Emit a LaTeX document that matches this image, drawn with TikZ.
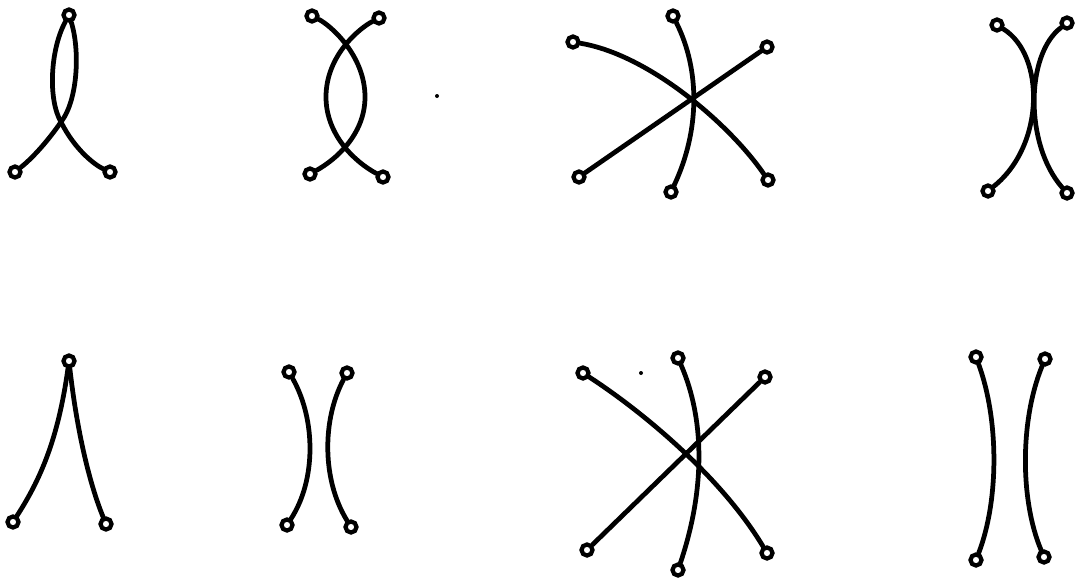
\documentclass[tikz,border=0pt]{standalone}
\begin{document}
\begin{tikzpicture}[x=0.02cm,y=-0.02cm,
  term/.style={circle,draw,fill=white,line width=0.085cm,minimum size=0.22cm,inner sep=0pt},
  strand/.style={line width=0.095cm,line cap=round},
  speck/.style={fill=black}]
\useasboundingbox (0,0) rectangle (1082,579);
% panel 1
\node[term] (a1) at (69,15) {};
\node[term] (a2) at (15,172) {};
\node[term] (a3) at (110,172) {};
\draw[strand] (a1) .. controls (50,50) and (48,100) .. (61,122) .. controls (75,150) and (95,165) .. (a3);
\draw[strand] (a1) .. controls (80,50) and (78,100) .. (61,122) .. controls (45,145) and (30,160) .. (a2);
% panel 2
\node[term] (b1) at (312,16) {};
\node[term] (b2) at (379,18) {};
\node[term] (b3) at (310,174) {};
\node[term] (b4) at (383,177) {};
\draw[strand] (b1) .. controls (330,25) and (365,55) .. (365,97) .. controls (365,135) and (335,160) .. (b3);
\draw[strand] (b2) .. controls (360,28) and (326,55) .. (326,97) .. controls (326,135) and (355,162) .. (b4);
\fill[speck] (437,96) circle (2);
% panel 3
\node[term] (c1) at (573,42) {};
\node[term] (c2) at (673,16) {};
\node[term] (c3) at (767,47) {};
\node[term] (c4) at (579,177) {};
\node[term] (c5) at (671,192) {};
\node[term] (c6) at (768,180) {};
\draw[strand] (c1) .. controls (650,55) and (730,125) .. (c6);
\draw[strand] (c3) -- (c4);
\draw[strand] (c2) .. controls (700,70) and (700,130) .. (c5);
% panel 4
\node[term] (d1) at (997,25) {};
\node[term] (d2) at (1067,23) {};
\node[term] (d3) at (988,191) {};
\node[term] (d4) at (1067,193) {};
\draw[strand] (d1) .. controls (1045,55) and (1045,145) .. (d3);
\draw[strand] (d2) .. controls (1025,55) and (1025,145) .. (d4);
% panel 5
\node[term] (e1) at (69,361) {};
\node[term] (e2) at (13,522) {};
\node[term] (e3) at (106,524) {};
\draw[strand] (e1) .. controls (58,440) and (40,480) .. (e2);
\draw[strand] (e1) .. controls (78,440) and (92,490) .. (e3);
% panel 6
\node[term] (f1) at (289,372) {};
\node[term] (f2) at (347,373) {};
\node[term] (f3) at (287,525) {};
\node[term] (f4) at (351,527) {};
\draw[strand] (f1) .. controls (316,420) and (316,480) .. (f3);
\draw[strand] (f2) .. controls (322,420) and (322,480) .. (f4);
% panel 7
\node[term] (g1) at (583,373) {};
\node[term] (g2) at (678,358) {};
\node[term] (g3) at (765,377) {};
\node[term] (g4) at (587,550) {};
\node[term] (g5) at (678,570) {};
\node[term] (g6) at (767,553) {};
\draw[strand] (g1) .. controls (640,410) and (720,475) .. (g6);
\draw[strand] (g3) -- (g4);
\draw[strand] (g2) .. controls (705,420) and (705,490) .. (g5);
\fill[speck] (641,373) circle (2);
% panel 8
\node[term] (h1) at (976,357) {};
\node[term] (h2) at (1045,359) {};
\node[term] (h3) at (976,560) {};
\node[term] (h4) at (1044,557) {};
\draw[strand] (h1) .. controls (999,420) and (999,500) .. (h3);
\draw[strand] (h2) .. controls (1020,420) and (1020,500) .. (h4);
\end{tikzpicture}
\end{document}
